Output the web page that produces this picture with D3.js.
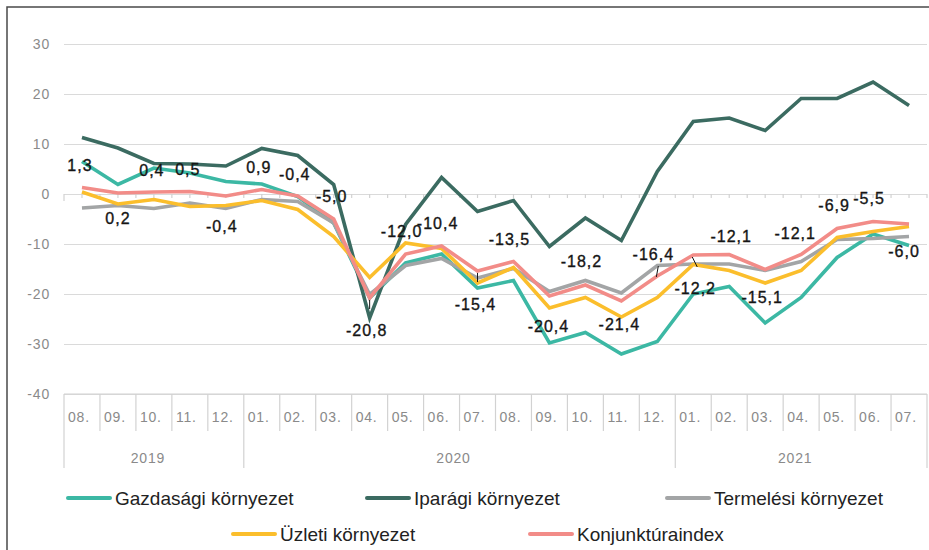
<!DOCTYPE html>
<html>
<head>
<meta charset="utf-8">
<script src="https://cdn.jsdelivr.net/npm/d3@7"></script>
<style>
  body { margin: 0; background: #fff; }
  svg { display: block; font-family: "Liberation Sans", Arial, sans-serif; }
</style>
</head>
<body>
<svg id="chart" width="929" height="550"></svg>
<script>
// categories
var months = ['08.', '09.', '10.', '11.', '12.',
  '01.', '02.', '03.', '04.', '05.', '06.', '07.', '08.', '09.', '10.', '11.', '12.',
  '01.', '02.', '03.', '04.', '05.', '06.', '07.'];
var years = ['2019', '2019', '2019', '2019', '2019',
  '2020', '2020', '2020', '2020', '2020', '2020', '2020', '2020', '2020', '2020', '2020', '2020',
  '2021', '2021', '2021', '2021', '2021', '2021', '2021'];

// series values
var gazdasagi = [6.5, 1.9, 5.2, 4.2, 2.5, 2.0, -0.5, -5.8, -20.8, -13.8, -12.0, -18.8, -17.3, -29.8, -27.7, -32.0,
  -29.5, -20.0, -18.5, -25.8, -20.7, -12.7, -8.0, -10.3];
var iparagi = [11.3, 9.2, 6.1, 6.0, 5.6, 9.1, 7.7, 1.9, -24.8, -6.1, 3.3, -3.5, -1.3, -10.5, -4.8, -9.3,
  4.5, 14.5, 15.2, 12.7, 19.1, 19.1, 22.4, 17.7];
var termelesi = [-2.8, -2.3, -2.9, -1.8, -2.9, -1.1, -1.5, -5.8, -20.1, -14.3, -12.9, -16.8, -14.9, -19.5, -17.3, -19.8,
  -14.3, -14.0, -14.0, -15.3, -13.5, -9.1, -8.9, -8.5];
var uzleti = [0.4, -2.0, -1.1, -2.5, -2.3, -1.3, -3.1, -8.5, -16.7, -9.8, -10.9, -17.8, -14.7, -22.8, -20.7, -24.6,
  -20.7, -14.1, -15.3, -17.8, -15.3, -8.7, -7.5, -6.5];
var konjunktura = [1.3, 0.2, 0.4, 0.5, -0.4, 0.9, -0.4, -5.0, -20.8, -12.0, -10.4, -15.4, -13.5, -20.4, -18.2, -21.4,
  -16.4, -12.2, -12.1, -15.1, -12.1, -6.9, -5.5, -6.0];

var yTicks = [30, 20, 10, 0, -10, -20, -30, -40];

var series = [
  { name: 'Gazdasági környezet', values: gazdasagi, color: '#3cb8a4' },
  { name: 'Iparági környezet', values: iparagi, color: '#3b6b61' },
  { name: 'Termelési környezet', values: termelesi, color: '#a3a5a6' },
  { name: 'Üzleti környezet', values: uzleti, color: '#fbbe2c' },
  { name: 'Konjunktúraindex', values: konjunktura, color: '#f28c88' }
];

// label nudges for the konjunktúraindex data labels: [dx, dy, leader]
var labelNudge = [
  [-2, -22, 0], [0, 25, 0], [-2, -22, 0], [-2, -22, 0], [-4, 30, 0], [-3, -22, 0],
  [-3, -22, 0], [-2, -23, 0], [-3, 32, 1], [-4, -23, 0], [-4, -23, 0], [-2, 33, 1],
  [-4, -22, 0], [-1, 30, 0], [-4, -24, 0], [-2, 23, 0], [-4, -22, 2], [2, 33, 3],
  [2, -18, 0], [-3, 28, 0], [-6, -21, 0], [-3, -23, 0], [-4, -23, 0], [-5, 27, 0]
];

var margin = { left: 64, right: 927, top: 44, bottom: 394 };

var svg = d3.select('#chart');

var x = d3.scaleBand()
  .domain(d3.range(months.length))
  .range([margin.left, margin.right]);

var y = d3.scaleLinear()
  .domain([-40, 30])
  .range([margin.bottom, margin.top]);

var fmt = function (v) { return d3.format('.1f')(v).replace('.', ',').replace('−', '-'); };

// frame
svg.append('path')
  .attr('d', 'M7,550V7H929')
  .attr('fill', 'none')
  .attr('stroke', '#4a4a4a')
  .attr('stroke-width', 1.5);

// y axis with gridlines
var yAxis = d3.axisLeft(y)
  .tickValues(yTicks)
  .tickSize(-(margin.right - margin.left))
  .tickPadding(14)
  .tickFormat(function (d) { return d; });

var yg = svg.append('g')
  .attr('transform', 'translate(' + margin.left + ',0)')
  .call(yAxis);
yg.select('.domain').remove();
yg.selectAll('.tick line').attr('stroke', '#dadada').attr('stroke-width', 1.2);
yg.selectAll('.tick text')
  .attr('fill', '#8a8a8a')
  .style('font-size', '14px')
  .style('letter-spacing', '0.8px')
  .style('font-family', '"Liberation Sans", Arial, sans-serif');

// zero line tick marks
var half = x.bandwidth() / 2;
svg.append('g').selectAll('line')
  .data(d3.range(months.length * 2 + 1))
  .enter().append('line')
  .attr('x1', function (k) { return margin.left + k * half; })
  .attr('x2', function (k) { return margin.left + k * half; })
  .attr('y1', y(0))
  .attr('y2', function (k) { return y(0) + (k === 0 ? 7 : 4); })
  .attr('stroke', '#d2d2d2')
  .attr('stroke-width', 1.2);

// category axis (two levels)
var catG = svg.append('g');
catG.append('line')
  .attr('x1', margin.left).attr('x2', margin.right)
  .attr('y1', y(-40)).attr('y2', y(-40))
  .attr('stroke', '#d2d2d2').attr('stroke-width', 1.2);

var groupStarts = d3.range(months.length).filter(function (i) { return i === 0 || years[i] !== years[i - 1]; });

catG.selectAll('.sep')
  .data(d3.range(months.length + 1))
  .enter().append('line')
  .attr('class', 'sep')
  .attr('x1', function (i) { return i < months.length ? x(i) : margin.right; })
  .attr('x2', function (i) { return i < months.length ? x(i) : margin.right; })
  .attr('y1', y(-40))
  .attr('y2', function (i) { return (groupStarts.indexOf(i) >= 0 || i === months.length) ? 468 : 431; })
  .attr('stroke', '#d2d2d2').attr('stroke-width', 1.2);

catG.selectAll('.month')
  .data(months)
  .enter().append('text')
  .attr('class', 'month')
  .attr('x', function (d, i) { return x(i) + 4; })
  .attr('y', 422)
  .attr('fill', '#8a8a8a')
  .style('font-size', '14px')
  .style('letter-spacing', '0.8px')
  .text(function (d) { return d; });

var yearGroups = d3.groups(d3.range(months.length), function (i) { return years[i]; });
catG.selectAll('.year')
  .data(yearGroups)
  .enter().append('text')
  .attr('class', 'year')
  .attr('x', function (g) {
    var a = x(g[1][0]), b = x(g[1][g[1].length - 1]) + x.bandwidth();
    return (a + b) / 2 - 6;
  })
  .attr('y', 463)
  .attr('text-anchor', 'middle')
  .attr('fill', '#8a8a8a')
  .style('font-size', '14px')
  .style('letter-spacing', '0.8px')
  .text(function (g) { return g[0]; });

// lines
var line = d3.line()
  .x(function (d, i) { return x(i) + half; })
  .y(function (d) { return y(d); });

svg.append('g').selectAll('path')
  .data(series)
  .enter().append('path')
  .attr('d', function (s) { return line(s.values); })
  .attr('fill', 'none')
  .attr('stroke', function (s) { return s.color; })
  .attr('stroke-width', 3.6)
  .attr('stroke-linejoin', 'miter');

// data labels for konjunktúraindex
var labG = svg.append('g');
konjunktura.forEach(function (v, i) {
  var px = x(i) + half, py = y(v), n = labelNudge[i];
  labG.append('text')
    .attr('x', px + n[0])
    .attr('y', py + n[1])
    .attr('dy', '0.35em')
    .attr('text-anchor', 'middle')
    .attr('fill', '#151515')
    .attr('stroke', '#151515')
    .attr('stroke-width', 0.35)
    .style('font-size', '16px')
    .style('letter-spacing', '1px')
    .text(fmt(v));

  // little leader lines
  var seg = null;
  if (n[2] === 1) seg = [0, 2, 0, 11];
  if (n[2] === 2) seg = [1, -10, -1, 1];
  if (n[2] === 3) seg = [-1, 2, 4, 12];
  if (seg) {
    labG.append('line')
      .attr('x1', px + seg[0]).attr('y1', py + seg[1])
      .attr('x2', px + seg[2]).attr('y2', py + seg[3])
      .attr('stroke', '#151515').attr('stroke-width', 1);
  }
});

// legend
var legendPos = [[68, 498], [367, 498], [667, 498], [233, 534], [530, 534]];
var lg = svg.append('g').selectAll('g')
  .data(series)
  .enter().append('g')
  .attr('transform', function (s, i) { return 'translate(' + legendPos[i][0] + ',' + legendPos[i][1] + ')'; });

lg.append('line')
  .attr('x1', 0).attr('x2', 42)
  .attr('stroke', function (s) { return s.color; })
  .attr('stroke-width', 4)
  .attr('stroke-linecap', 'round');

lg.append('text')
  .attr('x', 47)
  .attr('dy', '0.35em')
  .attr('fill', '#222')
  .style('font-size', '19px')
  .text(function (s) { return s.name; });
</script>
</body>
</html>
